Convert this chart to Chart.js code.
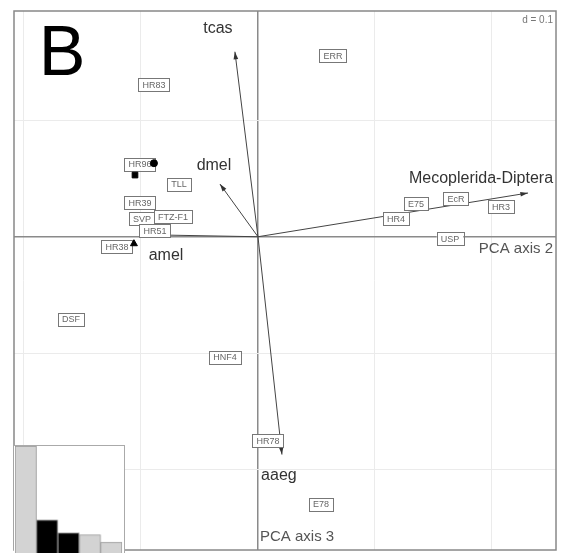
<!DOCTYPE html>
<html>
<head>
<meta charset="utf-8">
<script src="https://cdn.jsdelivr.net/npm/chart.js@4"></script>
<style>
  body { margin: 0; background: #fff; }
  #wrap { position: relative; width: 563px; height: 555px; }
  #inset { position: absolute; left: 14px; top: 445px; background: #fff; border-top: 1px solid #aaa; border-right: 1px solid #aaa; }
</style>
</head>
<body>
<div id="wrap">
  <canvas id="chart" width="563" height="555"></canvas>
  <canvas id="inset" width="111" height="108"></canvas>
</div>
<script>
// gene labels (PCA axis 2, PCA axis 3)
const geneNames = ['HR83', 'ERR', 'HR96', 'TLL', 'HR39', 'SVP', 'FTZ-F1', 'HR51', 'HR38', 'DSF',
                   'HNF4', 'HR78', 'E78', 'HR4', 'E75', 'EcR', 'HR3', 'USP'];
const geneX = [-0.0889, 0.0641, -0.1009, -0.0675, -0.1009, -0.0991, -0.0726, -0.0880, -0.1205, -0.1598,
               -0.0282, 0.0085, 0.0538, 0.1179, 0.1350, 0.1692, 0.2077, 0.1641];
const geneY = [0.1308, 0.1556, 0.0624, 0.0453, 0.0291, 0.0154, 0.0171, 0.0051, -0.0085, -0.0709,
               -0.1034, -0.1752, -0.2299, 0.0154, 0.0282, 0.0325, 0.0256, -0.0017];

// species arrows
const speciesNames = ['tcas', 'dmel', 'Mecoplerida-Diptera', 'aaeg', 'amel'];
const arrowX = [-0.0197, -0.0325, 0.2308, 0.0205, -0.0940];
const arrowY = [0.1590, 0.0453, 0.0376, -0.1872, 0.0017];
const speciesLabelX = [-0.0342, -0.0376, 0.1906, 0.0179, -0.0786];
const speciesLabelY = [0.1786, 0.0615, 0.0504, -0.2051, -0.0162];

// black markers
const markerX = [-0.0889, -0.1051, -0.1060];
const markerY = [0.0632, 0.0530, -0.0060];

// grid
const gridValuesX = [-0.2, -0.1, 0, 0.1, 0.2];
const gridValuesY = [0.1, 0, -0.1, -0.2];

// eigenvalues (relative)
const eigenValues = [1.0, 0.31, 0.19, 0.17, 0.10];
const eigenLabels = ['1', '2', '3', '4', '5'];
const shownAxes = [2, 3];

const FONT = '"Liberation Sans", Arial, sans-serif';

function toPoints(xs, ys) {
    return xs.map((x, i) => ({ x: x, y: ys[i] }));
}

/**
 * Arrows and boxed labels go under the markers, texts and frame on top.
 */
const biplotPlugin = {
    id: 'biplot',
    beforeDatasetsDraw(chart) {
        const ctx = chart.ctx;
        const xs = chart.scales.x;
        const ys = chart.scales.y;
        const ox = xs.getPixelForValue(0);
        const oy = ys.getPixelForValue(0);

        ctx.save();

        // arrows
        ctx.strokeStyle = '#444';
        ctx.fillStyle = '#333';
        ctx.lineWidth = 1;
        for (let i = 0; i < speciesNames.length; i++) {
            const ex = xs.getPixelForValue(arrowX[i]);
            const ey = ys.getPixelForValue(arrowY[i]);
            ctx.beginPath();
            ctx.moveTo(ox, oy);
            ctx.lineTo(ex, ey);
            ctx.stroke();
            const ang = Math.atan2(ey - oy, ex - ox);
            const len = 8;
            ctx.beginPath();
            ctx.moveTo(ex, ey);
            ctx.lineTo(ex - len * Math.cos(ang - 0.3), ey - len * Math.sin(ang - 0.3));
            ctx.lineTo(ex - len * Math.cos(ang + 0.3), ey - len * Math.sin(ang + 0.3));
            ctx.closePath();
            ctx.fill();
        }

        // boxed gene labels
        ctx.font = '9px ' + FONT;
        ctx.textAlign = 'center';
        ctx.textBaseline = 'middle';
        const meta = chart.getDatasetMeta(0);
        meta.data.forEach((pt, i) => {
            const w = ctx.measureText(geneNames[i]).width + 8;
            const h = 13;
            ctx.fillStyle = '#fff';
            ctx.fillRect(pt.x - w / 2, pt.y - h / 2, w, h);
            ctx.strokeStyle = '#777';
            ctx.strokeRect(Math.round(pt.x - w / 2) + 0.5, Math.round(pt.y - h / 2) + 0.5, Math.round(w), h);
            ctx.fillStyle = '#666';
            ctx.fillText(geneNames[i], pt.x, pt.y + 0.5);
        });
        ctx.restore();
    },
    afterDatasetsDraw(chart) {
        const ctx = chart.ctx;
        const xs = chart.scales.x;
        const ys = chart.scales.y;
        const area = chart.chartArea;
        const ox = xs.getPixelForValue(0);
        const oy = ys.getPixelForValue(0);

        ctx.save();
        ctx.textAlign = 'center';
        ctx.textBaseline = 'middle';

        // species labels
        ctx.font = '16px ' + FONT;
        ctx.fillStyle = '#333';
        for (let i = 0; i < speciesNames.length; i++) {
            ctx.fillText(speciesNames[i], xs.getPixelForValue(speciesLabelX[i]), ys.getPixelForValue(speciesLabelY[i]));
        }

        // axis names
        ctx.font = '15px ' + FONT;
        ctx.fillStyle = '#555';
        ctx.textAlign = 'right';
        ctx.fillText('PCA axis 2', area.right - 3, oy + 12);
        ctx.textAlign = 'left';
        ctx.fillText('PCA axis 3', ox + 2, area.bottom - 13);

        // scale note
        ctx.font = '10px ' + FONT;
        ctx.fillStyle = '#777';
        ctx.textAlign = 'right';
        ctx.fillText('d = 0.1', area.right - 3, area.top + 9);

        // panel letter
        ctx.font = '70px ' + FONT;
        ctx.fillStyle = '#000';
        ctx.textAlign = 'center';
        ctx.fillText('B', 62, 56);

        // frame
        ctx.strokeStyle = '#888';
        ctx.lineWidth = 1.5;
        ctx.strokeRect(area.left, area.top, area.right - area.left, area.bottom - area.top);
        ctx.restore();
    }
};

function buildChart() {
    const chartElement = document.getElementById('chart');
    new Chart(chartElement, {
        type: 'scatter',
        plugins: [biplotPlugin],
        data: {
            datasets: [{
                label: 'genes',
                data: toPoints(geneX, geneY),
                pointRadius: 0
            }, {
                label: 'markers',
                data: toPoints(markerX, markerY),
                pointStyle: ['circle', 'rect', 'triangle'],
                pointRadius: [3.5, 4, 4],
                backgroundColor: '#000',
                borderColor: '#000'
            }]
        },
        options: {
            responsive: false,
            animation: false,
            layout: { padding: { left: 14, right: 7, top: 11, bottom: 2 } },
            scales: {
                x: {
                    min: -0.2085, max: 0.2547,
                    afterBuildTicks: s => { s.ticks = gridValuesX.map(v => ({ value: v })); },
                    ticks: { display: false },
                    border: { display: false },
                    grid: {
                        drawTicks: false,
                        color: c => c.tick && c.tick.value === 0 ? '#8a8a8a' : '#ebebeb',
                        lineWidth: c => c.tick && c.tick.value === 0 ? 1.5 : 1
                    }
                },
                y: {
                    min: -0.2692, max: 0.1940,
                    afterBuildTicks: s => { s.ticks = gridValuesY.map(v => ({ value: v })); },
                    ticks: { display: false },
                    border: { display: false },
                    grid: {
                        drawTicks: false,
                        color: c => c.tick && c.tick.value === 0 ? '#8a8a8a' : '#ebebeb',
                        lineWidth: c => c.tick && c.tick.value === 0 ? 1.5 : 1
                    }
                }
            },
            plugins: {
                legend: { display: false },
                tooltip: { enabled: false }
            }
        }
    });
}

function buildInset() {
    const insetElement = document.getElementById('inset');
    new Chart(insetElement, {
        type: 'bar',
        data: {
            labels: eigenLabels,
            datasets: [{
                data: eigenValues,
                backgroundColor: eigenLabels.map((l, i) => shownAxes.includes(i + 1) ? '#000' : '#d3d3d3'),
                borderColor: '#999',
                borderWidth: 1,
                barPercentage: 1,
                categoryPercentage: 1
            }]
        },
        options: {
            responsive: false,
            animation: false,
            layout: { padding: { left: 1, right: 2, top: 0, bottom: 0 } },
            scales: {
                x: { display: false },
                y: { display: false, min: 0, max: eigenValues[0] }
            },
            plugins: {
                legend: { display: false },
                tooltip: { enabled: false }
            }
        }
    });
}

buildChart();
buildInset();
</script>
</body>
</html>
